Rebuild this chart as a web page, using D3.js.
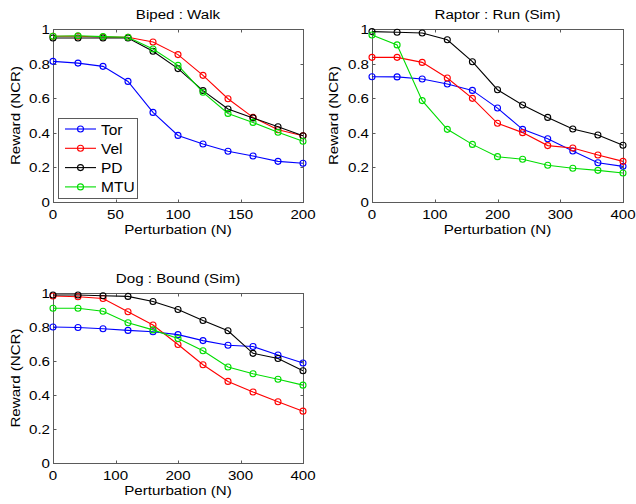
<!DOCTYPE html>
<html><head><meta charset="utf-8">
<script src="https://cdn.jsdelivr.net/npm/d3@7"></script>
<style>
html,body{margin:0;padding:0;background:#fff;}
svg text{font-family:"Liberation Sans",Arial,sans-serif;fill:#000;}
</style></head>
<body><svg id="c" width="636" height="504"></svg>
<script>
// ---- data ----
const seriesNames = ["Tor","Vel","PD","MTU"];
const seriesColors = ["#0000ff","#ff0000","#000000","#00dd00"];
const yTicks = [0,0.2,0.4,0.6,0.8,1];

const bipedX = [0,20,40,60,80,100,120,140,160,180,200];
const bipedTor = [0.813,0.803,0.784,0.697,0.518,0.385,0.335,0.293,0.266,0.235,0.224];
const bipedVel = [0.958,0.958,0.954,0.952,0.925,0.852,0.732,0.597,0.489,0.418,0.383];
const bipedPD  = [0.948,0.948,0.948,0.948,0.871,0.771,0.644,0.538,0.486,0.435,0.383];
const bipedMTU = [0.958,0.961,0.956,0.952,0.884,0.790,0.634,0.512,0.460,0.403,0.351];
const bipedXTicks = [0,50,100,150,200];

const raptorX = [0,40,80,120,160,200,240,280,320,360,400];
const raptorTor = [0.724,0.723,0.711,0.682,0.645,0.543,0.420,0.366,0.295,0.227,0.206];
const raptorVel = [0.836,0.836,0.807,0.717,0.599,0.455,0.401,0.326,0.312,0.272,0.235];
const raptorPD  = [0.985,0.981,0.977,0.938,0.811,0.649,0.561,0.489,0.422,0.387,0.328];
const raptorMTU = [0.965,0.908,0.586,0.420,0.333,0.262,0.247,0.212,0.195,0.183,0.168];

const dogX = [0,40,80,120,160,200,240,280,320,360,400];
const dogTor = [0.800,0.797,0.790,0.780,0.772,0.755,0.720,0.693,0.685,0.635,0.588];
const dogVel = [0.982,0.978,0.968,0.890,0.812,0.697,0.578,0.480,0.418,0.360,0.305];
const dogPD  = [0.988,0.988,0.984,0.980,0.950,0.903,0.838,0.778,0.645,0.615,0.543];
const dogMTU = [0.910,0.910,0.893,0.825,0.783,0.732,0.660,0.565,0.525,0.493,0.458];
const wideXTicks = [0,100,200,300,400];

const panels = [
  {title:"Biped : Walk", x:bipedX, xMax:200, xTicks:bipedXTicks, series:[bipedTor,bipedVel,bipedPD,bipedMTU], legend:true,
   box:{l:53,t:29,w:250,h:173}, ylabX:20},
  {title:"Raptor : Run (Sim)", x:raptorX, xMax:400, xTicks:wideXTicks, series:[raptorTor,raptorVel,raptorPD,raptorMTU], legend:false,
   box:{l:372,t:29,w:251,h:173}, ylabX:338},
  {title:"Dog : Bound (Sim)", x:dogX, xMax:400, xTicks:wideXTicks, series:[dogTor,dogVel,dogPD,dogMTU], legend:false,
   box:{l:53,t:293,w:250,h:170}, ylabX:20}
];

const svg = d3.select("#c");
const fs = 13.5;
const sx = 1.12;
const axisColor = "#5a5a5a";

function label(parent, x, y, str, anchor, rot, size, stretch) {
  const r = rot ? ` rotate(${rot})` : "";
  return parent.append("text")
    .attr("transform", `translate(${x},${y})${r} scale(${stretch||sx},1)`)
    .attr("text-anchor", anchor||"start")
    .attr("font-size", size||fs)
    .text(str);
}

panels.forEach(p => {
  const b = p.box;
  const g = svg.append("g").attr("transform", `translate(${b.l},${b.t})`);
  const xs = d3.scaleLinear().domain([0,p.xMax]).range([0,b.w]);
  const ys = d3.scaleLinear().domain([0,1]).range([b.h,0]);

  g.append("rect").attr("x",0.5).attr("y",0.5).attr("width",b.w).attr("height",b.h)
    .attr("fill","#fff").attr("stroke",axisColor).attr("stroke-width",1);

  const tl = 3;
  p.xTicks.forEach(t => {
    const x = Math.round(xs(t))+0.5;
    g.append("line").attr("x1",x).attr("x2",x).attr("y1",b.h+0.5).attr("y2",b.h+0.5-tl).attr("stroke",axisColor);
    g.append("line").attr("x1",x).attr("x2",x).attr("y1",0.5).attr("y2",0.5+tl).attr("stroke",axisColor);
    label(g, xs(t), b.h+17, String(t), "middle");
  });
  yTicks.forEach(t => {
    const y = Math.round(ys(t))+0.5;
    g.append("line").attr("x1",0.5).attr("x2",0.5+tl).attr("y1",y).attr("y2",y).attr("stroke",axisColor);
    g.append("line").attr("x1",b.w+0.5).attr("x2",b.w+0.5-tl).attr("y1",y).attr("y2",y).attr("stroke",axisColor);
    label(g, -3, ys(t)+5, d3.format("~g")(t), "end");
  });

  const line = d3.line().x((d,i)=>xs(p.x[i])).y(d=>ys(d));
  p.series.forEach((s,k) => {
    g.append("path").datum(s).attr("d",line).attr("fill","none")
      .attr("stroke",seriesColors[k]).attr("stroke-width",1.1);
    g.selectAll(null).data(s).enter().append("circle")
      .attr("cx",(d,i)=>xs(p.x[i])).attr("cy",d=>ys(d)).attr("r",3)
      .attr("fill","none").attr("stroke",seriesColors[k]).attr("stroke-width",1.1);
  });

  label(svg, b.l+b.w/2, b.t-10, p.title, "middle");
  label(svg, b.l+b.w/2, b.t+b.h+32, "Perturbation (N)", "middle");
  label(svg, p.ylabX, b.t+b.h/2, "Reward (NCR)", "middle", -90);

  if (p.legend) {
    const lg = g.append("g").attr("transform","translate(5,89)");
    lg.append("rect").attr("x",0.5).attr("y",0.5).attr("width",79).attr("height",80)
      .attr("fill","#fff").attr("stroke",axisColor);
    seriesNames.forEach((n,k) => {
      const y = 11 + k*19.3;
      lg.append("line").attr("x1",7).attr("x2",38).attr("y1",y).attr("y2",y)
        .attr("stroke",seriesColors[k]).attr("stroke-width",1.1);
      lg.append("circle").attr("cx",22.5).attr("cy",y).attr("r",3)
        .attr("fill","none").attr("stroke",seriesColors[k]).attr("stroke-width",1.1);
      label(lg, 43, y+5.5, n, "start", 0, 15.5, 1);
    });
  }
});
</script></body></html>
